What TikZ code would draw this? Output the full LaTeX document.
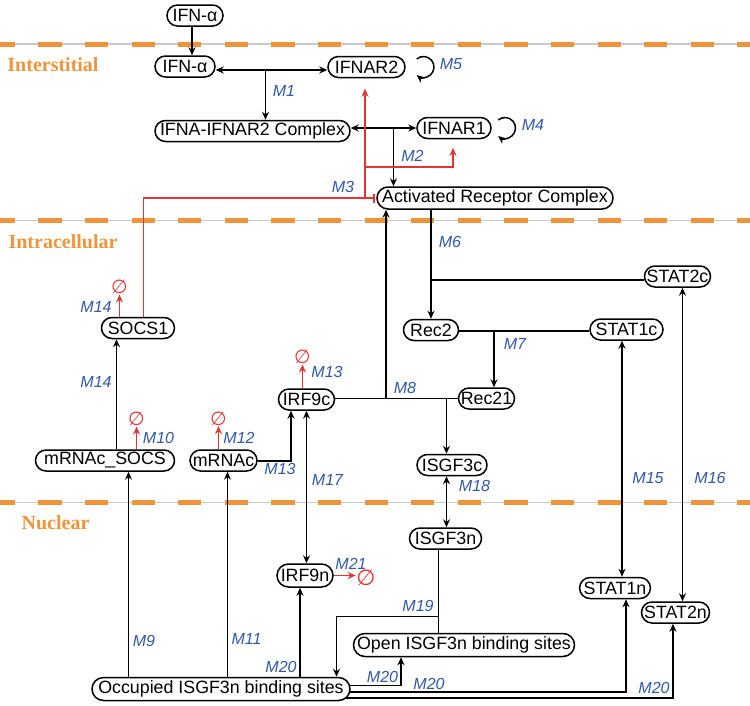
\documentclass[tikz,border=0pt]{standalone}
\usepackage{fontspec}
\setmainfont{Liberation Sans}
\newfontfamily\regionfnt{Liberation Serif}
\newfontfamily\emptyfnt{DejaVu Sans}
\usetikzlibrary{arrows.meta,shapes.misc,backgrounds}
\definecolor{orng}{RGB}{239,148,58}
\definecolor{lblue}{RGB}{48,88,168}
\definecolor{rred}{RGB}{228,52,52}
\definecolor{sepgray}{RGB}{200,200,200}
\tikzset{
  sp/.style={draw, rounded rectangle, line width=1.5pt, fill=white, inner xsep=2pt, inner ysep=0pt,
    minimum height=21pt, font=\fontsize{17.8}{20}\selectfont},
  lab/.style={text=lblue, inner sep=0pt, font=\fontsize{16}{18}\selectfont\itshape},
  region/.style={text=orng, inner sep=0pt, font=\regionfnt\bfseries\fontsize{20}{22}\selectfont},
  emp/.style={text=rred, inner sep=0.5pt, font=\emptyfnt\fontsize{19}{21}\selectfont},
  cn/.style={line width=1.5pt, draw=black},
  ar/.style={cn, -{Stealth[length=8pt,width=7pt]}},
  dar/.style={cn, {Stealth[length=8pt,width=7pt]}-{Stealth[length=8pt,width=7pt]}},
  rcn/.style={line width=1.5pt, draw=rred},
  rar/.style={rcn, -{Stealth[length=8pt,width=7pt]}},
  rbar/.style={rcn, -{Bar[width=9pt]}},
  sepline/.style={sepgray, line width=1.5pt},
  sepdash/.style={orng, line width=5pt, dash pattern=on 23.3pt off 23.3pt, dash phase=8.3pt}
}
\begin{document}
\begin{tikzpicture}[x=1pt,y=-1pt]
\useasboundingbox (0,0) rectangle (750,705);

% region labels
\node[region] (rint) at (53,65) {Interstitial};
\node[region] (rintra) at (63,242) {Intracellular};
\node[region] (rnuc) at (55.5,523) {Nuclear};

% species nodes
\node[sp, minimum width=60pt] (ifn0) at (195,15.5) {IFN-α};
\node[sp, minimum width=64pt] (ifn1) at (185,66.5) {IFN-α};
\node[sp, minimum width=81pt] (ifnar2) at (366.5,67) {IFNAR2};
\node[sp, minimum width=199pt] (cplx) at (252.5,131) {IFNA-IFNAR2 Complex};
\node[sp, minimum width=78pt] (ifnar1) at (454,128) {IFNAR1};
\node[sp, minimum width=240pt, minimum height=22pt] (actrc) at (495,198) {Activated Receptor Complex};
\node[sp, minimum width=70pt] (stat2c) at (677.5,276.5) {STAT2c};
\node[sp, minimum width=59pt] (rec2) at (431,330) {Rec2};
\node[sp, minimum width=77pt] (stat1c) at (626.5,329.5) {STAT1c};
\node[sp, minimum width=60pt] (rec21) at (486.5,398.5) {Rec21};
\node[sp, minimum width=60pt] (irf9c) at (306.5,399.5) {IRF9c};
\node[sp, minimum width=77pt] (socs1) at (138,328) {SOCS1};
\node[sp, minimum width=143pt] (mrnasocs) at (105,460.5) {mRNAc\_SOCS};
\node[sp, minimum width=71pt] (mrnac) at (223.5,460.5) {mRNAc};
\node[sp, minimum width=74pt] (isgf3c) at (452,465) {ISGF3c};
\node[sp, minimum width=76pt] (isgf3n) at (445.5,538.5) {ISGF3n};
\node[sp, minimum width=60pt, minimum height=23pt] (irf9n) at (305,575.5) {IRF9n};
\node[sp, minimum width=69pt] (stat1n) at (615,588) {STAT1n};
\node[sp, minimum width=72pt] (stat2n) at (675.5,612.5) {STAT2n};
\node[sp, minimum width=225pt, minimum height=23pt] (open) at (464,645) {Open ISGF3n binding sites};
\node[sp, minimum width=262pt, minimum height=23pt] (occ) at (221,689) {Occupied ISGF3n binding sites};

% degradation symbols
\node[emp] (e14) at (119.5,287) {∅};
\node[emp] (e10) at (136.5,419) {∅};
\node[emp] (e12) at (218.5,418.5) {∅};
\node[emp] (e13) at (302.5,357) {∅};
\node[emp, font=\emptyfnt\fontsize{22}{24}\selectfont] (e21) at (366,578) {∅};

% reaction labels
\node[lab] (m1) at (284,91) {M1};
\node[lab] (m2) at (412.5,155.7) {M2};
\node[lab] (m3) at (343,187) {M3};
\node[lab] (m4) at (533,125) {M4};
\node[lab] (m5) at (451,64) {M5};
\node[lab] (m6) at (450,242) {M6};
\node[lab] (m7) at (515,344) {M7};
\node[lab] (m8) at (405,388) {M8};
\node[lab] (m9) at (144,641) {M9};
\node[lab] (m10) at (158.5,438) {M10};
\node[lab] (m11) at (246.5,639) {M11};
\node[lab] (m12) at (239,438) {M12};
\node[lab] (m13a) at (327,371.7) {M13};
\node[lab] (m13b) at (280,469) {M13};
\node[lab] (m14a) at (96,307) {M14};
\node[lab] (m14b) at (96,381.7) {M14};
\node[lab] (m15) at (648,478) {M15};
\node[lab] (m16) at (710,478) {M16};
\node[lab] (m17) at (327.5,480) {M17};
\node[lab] (m18) at (474.5,486) {M18};
\node[lab] (m19) at (418,606) {M19};
\node[lab] (m20a) at (281,666.7) {M20};
\node[lab] (m20b) at (382.5,677) {M20};
\node[lab] (m20c) at (429,684) {M20};
\node[lab] (m20d) at (654,688) {M20};
\node[lab] (m21) at (351,564) {M21};

% self loops
\draw[ar] (423.5,67) ++(-130:10.5) arc[start angle=-130, end angle=130, radius=10.5];
\draw[ar] (505,128) ++(-130:10.5) arc[start angle=-130, end angle=130, radius=10.5];

% red degradation arrows
\draw[rar] (119.5,0 |- socs1.north) -- (e14);
\draw[rar] (136.5,0 |- mrnasocs.north) -- (e10);
\draw[rar] (218.5,0 |- mrnac.north) -- (e12);
\draw[rar] (302.5,0 |- irf9c.north) -- (e13);
\draw[rar] (irf9n.east) -- (e21.west |- irf9n.east);

\begin{scope}[on background layer]
  \foreach \yy in {44,220.5,502.5} {
    \draw[sepline] (0,\yy) -- (750,\yy);
    \draw[sepdash] (0,\yy) -- (750,\yy);
  }
  % interstitial
  \draw[ar] (192,0 |- ifn0.south) -- (192,0 |- ifn1.north);
  \draw[dar] (ifn1.east |- 0,70) -- (ifnar2.west |- 0,70);
  \draw[ar] (265.5,70) -- (265.5,0 |- cplx.north);
  \draw[dar] (cplx.east |- 0,128) -- (ifnar1.west |- 0,128);
  \draw[ar] (393.5,128) -- (393.5,0 |- actrc.north);
  % SOCS1 inhibition (red)
  \draw[rbar] (143.5,0 |- socs1.north) -- (143.5,198) -- ([xshift=-1.5pt]actrc.west);
  \draw[rar, shorten >=10.5pt] (365,198) -- (365,0 |- ifnar2.south);
  \draw[rar, shorten >=8.5pt] (365,167) -- (453,167) -- (453,0 |- ifnar1.south);
  % intracellular
  \draw[ar] (431,0 |- actrc.south) -- (431,0 |- rec2.north);
  \draw[cn] (431,280) -- (stat2c.west |- 0,280);
  \draw[cn] (rec2.east |- 0,331) -- (stat1c.west |- 0,331);
  \draw[ar] (494,331) -- (494,0 |- rec21.north);
  \draw[cn] (irf9c.east |- 0,398.5) -- (rec21.west |- 0,398.5);
  \draw[ar] (386,398.5) -- (386,0 |- actrc.south);
  \draw[ar] (446.5,398.5) -- (446.5,0 |- isgf3c.north);
  \draw[dar] (446.5,0 |- isgf3c.south) -- (446.5,0 |- isgf3n.north);
  \draw[ar] (116.5,0 |- mrnasocs.north) -- (116.5,0 |- socs1.south);
  \draw[ar] (mrnac.east |- 0,461) -- (291,461) -- (291,0 |- irf9c.south);
  \draw[dar] (306.5,0 |- irf9c.south) -- (306.5,0 |- irf9n.north);
  \draw[dar] (622,0 |- stat1c.south) -- (622,0 |- stat1n.north);
  \draw[dar] (682.5,0 |- stat2c.south) -- (682.5,0 |- stat2n.north);
  % nuclear
  \draw[cn] (438.5,0 |- isgf3n.south) -- (438.5,0 |- open.north);
  \draw[ar] (438.5,616.5) -- (336.5,616.5) -- (336.5,0 |- occ.north);
  \draw[ar] (occ.center |- 0,685.5) -- (401,685.5) -- (401,0 |- open.south);
  \draw[ar] (occ.center |- 0,692) -- (626,692) -- (626,0 |- stat1n.south);
  \draw[ar] (occ.center |- 0,698) -- (673,698) -- (673,0 |- stat2n.south);
  \draw[ar] (300,0 |- occ.north) -- (300,0 |- irf9n.south);
  \draw[ar] (227.5,0 |- occ.north) -- (227.5,0 |- mrnac.south);
  \draw[ar] (128.5,0 |- occ.north) -- (128.5,0 |- mrnasocs.south);
\end{scope}
\end{tikzpicture}
\end{document}
